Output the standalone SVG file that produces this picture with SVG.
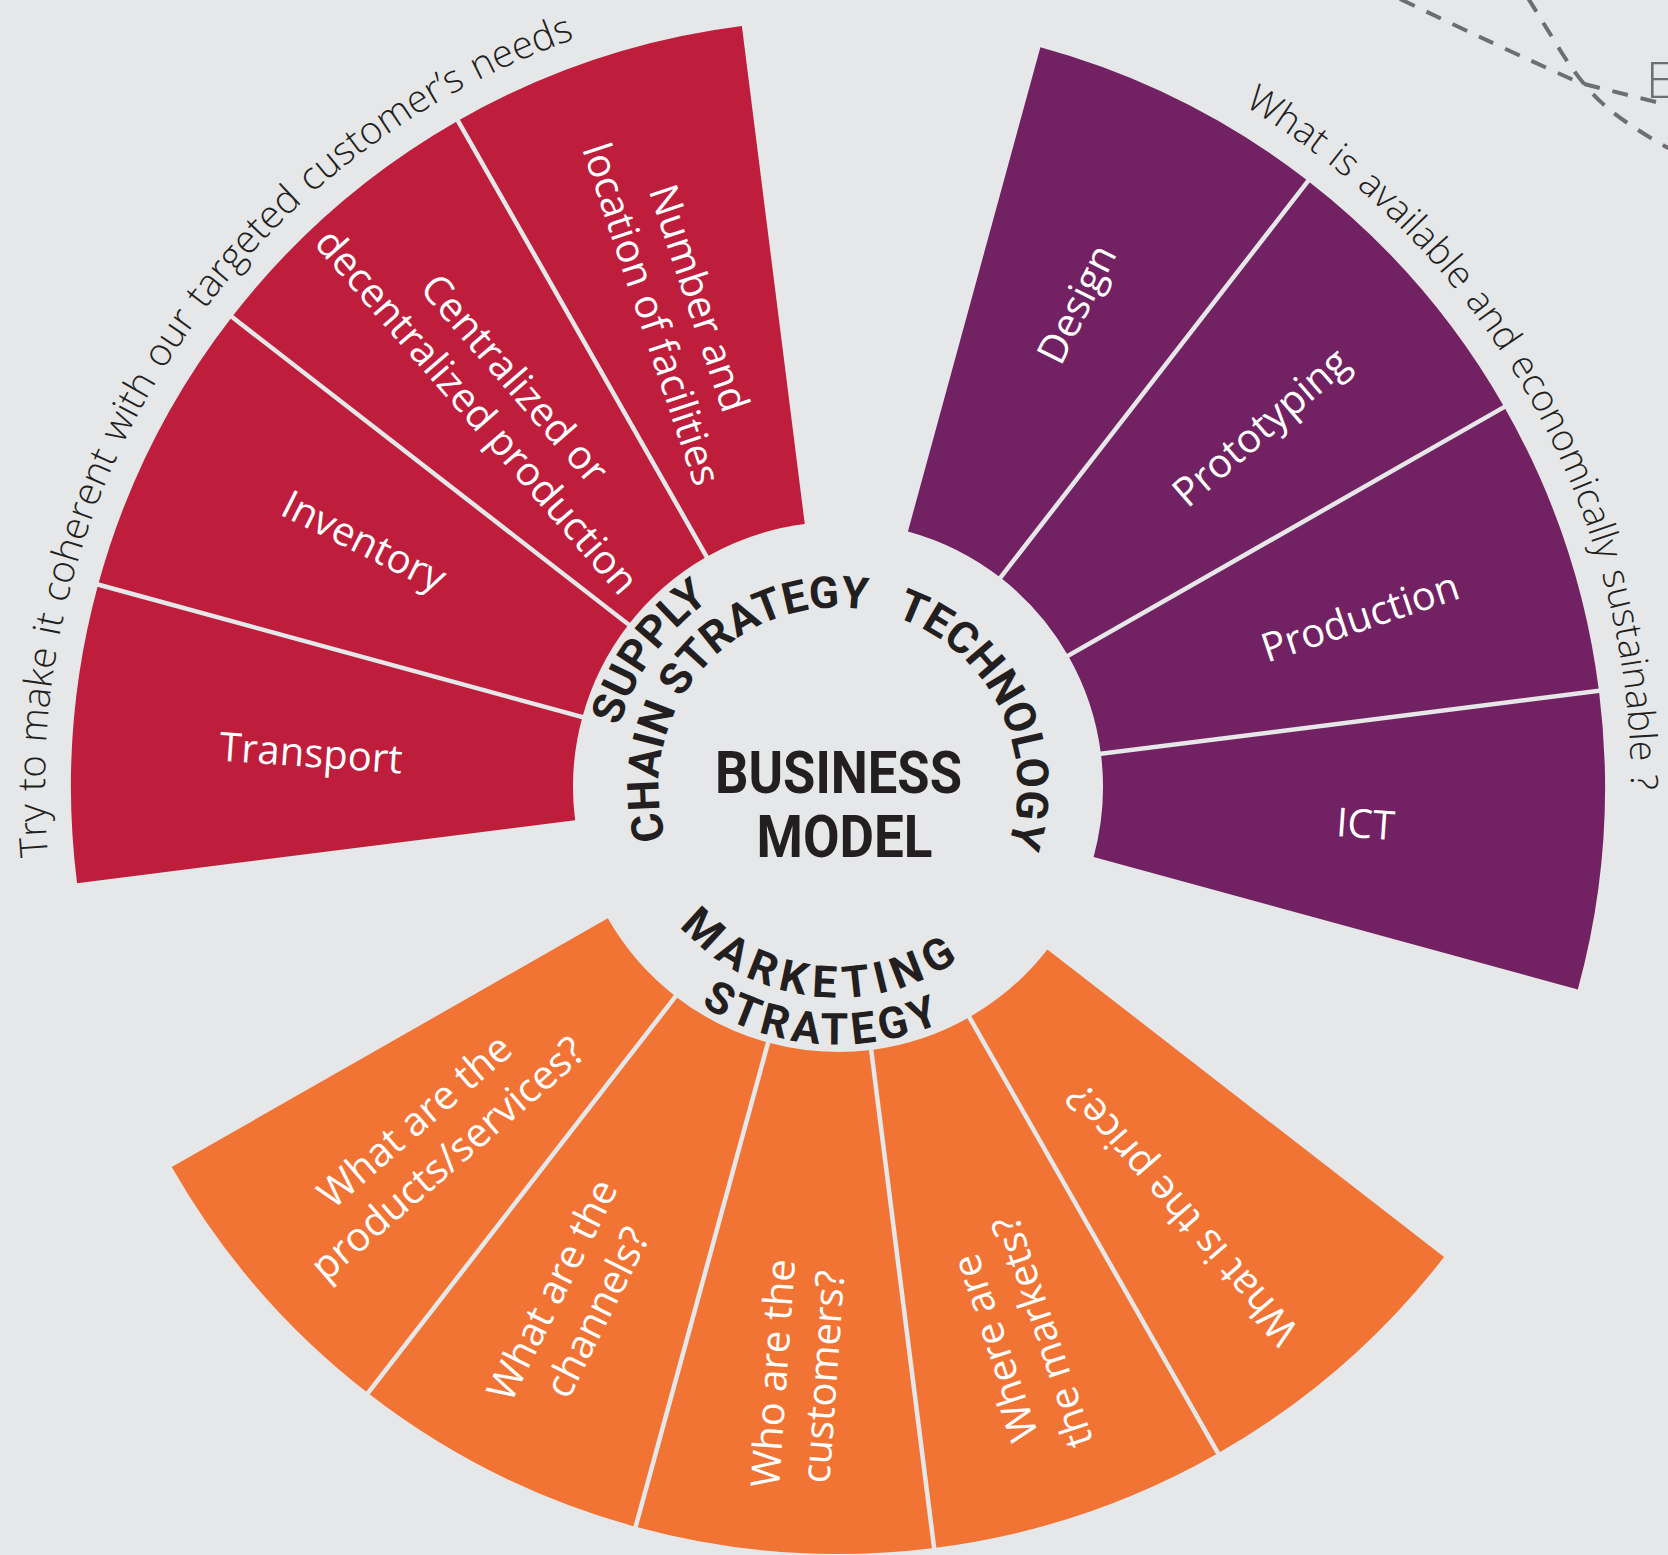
<svg xmlns="http://www.w3.org/2000/svg" width="1668" height="1555" viewBox="0 0 1668 1555">
<style>
.red{fill:#BE1E3C}
.pur{fill:#722262}
.org{fill:#F27435}
.div{stroke:#E6E7E8;stroke-width:4.5;stroke-linecap:square}
.lbl{font-family:"Open Sans","DejaVu Sans",sans-serif;font-size:40px;fill:#FFFFFF;text-anchor:middle}
.arc{font-family:"Open Sans","DejaVu Sans",sans-serif;font-weight:300;fill:#231F20}
.hub{font-family:Roboto,"Liberation Sans",sans-serif;font-weight:700;fill:#231F20}
.dash{fill:none;stroke:#6D6E71;stroke-width:4;stroke-dasharray:16 13}
</style>
<defs>
<path id="pTry" d="M132.69,1149.43 A793,793 0 0 1 876.74,-5.06"/>
<path id="pWhat" d="M844.92,-5.97 A793,793 0 0 1 1521.27,1189.48"/>
<path id="pSupply" d="M676.45,945.76 A226.5,226.5 0 0 1 935.51,582.56"/>
<path id="pChain" d="M708.23,911.01 A179.5,179.5 0 0 1 944.27,642.34"/>
<path id="pTech" d="M787.62,614.71 A179.5,179.5 0 0 1 944.27,931.66"/>
<path id="pMkt" d="M628.01,801.68 A210.5,210.5 0 0 0 1040.35,845.02"/>
<path id="pStr" d="M581.98,814.59 A257.5,257.5 0 0 0 1088.01,848.64"/>
</defs>
<rect width="1668" height="1555" fill="#E6E7E8"/>

<g id="decor">
<path class="dash" d="M1400,-1 Q1500,47 1580,83 Q1620,93 1660,103"/>
<path class="dash" d="M1528,-2 L1560,50 Q1585,90 1610,110 Q1635,130 1672,150"/>
<text x="1646" y="98" font-family="Open Sans, DejaVu Sans, sans-serif" font-weight="300" font-size="50" fill="#6D6E71">E</text>
</g>

<g id="seg-transport">
<path class="red" d="M77.05,883.13 A767,767 0 0 1 98.18,584.61 L582.39,717.07 A265,265 0 0 0 575.09,820.21 Z"/>
<text class="lbl" transform="translate(311,753) rotate(4.05)"><tspan x="0" y="14">Transport</tspan></text>
</g>
<g id="seg-inventory">
<path class="red" d="M98.18,584.61 A767,767 0 0 1 231.95,316.90 L628.61,624.58 A265,265 0 0 0 582.39,717.07 Z"/>
<text class="lbl" transform="translate(364,541) rotate(26.55)"><tspan x="0" y="14">Inventory</tspan></text>
</g>
<g id="seg-centralized">
<path class="red" d="M231.95,316.90 A767,767 0 0 1 457.98,120.76 L706.70,556.81 A265,265 0 0 0 628.61,624.58 Z"/>
<text class="lbl" transform="translate(496,395) rotate(49.05)"><tspan x="0" y="-11">Centralized or</tspan><tspan x="0" y="39">decentralized production</tspan></text>
</g>
<g id="seg-facilities">
<path class="red" d="M457.98,120.76 A767,767 0 0 1 741.87,26.05 L804.79,524.09 A265,265 0 0 0 706.70,556.81 Z"/>
<text class="lbl" transform="translate(675.5,306) rotate(71.55)"><tspan x="0" y="-11">Number and</tspan><tspan x="0" y="39">location of facilities</tspan></text>
</g>

<g id="seg-design">
<path class="pur" d="M1040.39,47.18 A767,767 0 0 1 1308.10,180.95 L1000.42,577.61 A265,265 0 0 0 907.93,531.39 Z"/>
<text class="lbl" transform="translate(1076.5,304) rotate(-63.45)"><tspan x="0" y="14">Design</tspan></text>
</g>
<g id="seg-prototyping">
<path class="pur" d="M1308.10,180.95 A767,767 0 0 1 1504.24,406.98 L1068.19,655.70 A265,265 0 0 0 1000.42,577.61 Z"/>
<text class="lbl" transform="translate(1260.7,427) rotate(-40.95)"><tspan x="0" y="14">Prototyping</tspan></text>
</g>
<g id="seg-production">
<path class="pur" d="M1504.24,406.98 A767,767 0 0 1 1598.95,690.87 L1100.91,753.79 A265,265 0 0 0 1068.19,655.70 Z"/>
<text class="lbl" transform="translate(1360,617) rotate(-18.45)"><tspan x="0" y="14">Production</tspan></text>
</g>
<g id="seg-ict">
<path class="pur" d="M1598.95,690.87 A767,767 0 0 1 1577.82,989.39 L1093.61,856.93 A265,265 0 0 0 1100.91,753.79 Z"/>
<text class="lbl" transform="translate(1365.5,824) rotate(4.05)"><tspan x="0" y="14">ICT</tspan></text>
</g>

<g id="seg-price">
<path class="org" d="M1444.05,1257.10 A767,767 0 0 1 1218.02,1453.24 L969.30,1017.19 A265,265 0 0 0 1047.39,949.42 Z"/>
<text class="lbl" transform="translate(1182,1215) rotate(-130.95)"><tspan x="0" y="14">What is the price?</tspan></text>
</g>
<g id="seg-markets">
<path class="org" d="M1218.02,1453.24 A767,767 0 0 1 934.13,1547.95 L871.21,1049.91 A265,265 0 0 0 969.30,1017.19 Z"/>
<text class="lbl" transform="translate(1018.5,1340) rotate(-108.45)"><tspan x="0" y="-11">Where are</tspan><tspan x="0" y="39">the markets?</tspan></text>
</g>
<g id="seg-customers">
<path class="org" d="M934.13,1547.95 A767,767 0 0 1 635.61,1526.82 L768.07,1042.61 A265,265 0 0 0 871.21,1049.91 Z"/>
<text class="lbl" transform="translate(798,1375) rotate(-85.95)"><tspan x="0" y="-11">Who are the</tspan><tspan x="0" y="39">customers?</tspan></text>
</g>
<g id="seg-channels">
<path class="org" d="M635.61,1526.82 A767,767 0 0 1 367.90,1393.05 L675.58,996.39 A265,265 0 0 0 768.07,1042.61 Z"/>
<text class="lbl" transform="translate(574.5,1301) rotate(-63.45)"><tspan x="0" y="-11">What are the</tspan><tspan x="0" y="39">channels?</tspan></text>
</g>
<g id="seg-products">
<path class="org" d="M367.90,1393.05 A767,767 0 0 1 171.76,1167.02 L607.81,918.30 A265,265 0 0 0 675.58,996.39 Z"/>
<text class="lbl" transform="translate(431,1139.5) rotate(-40.95)"><tspan x="0" y="-11">What are the</tspan><tspan x="0" y="39">products/services?</tspan></text>
</g>

<g id="dividers">
<line class="div" x1="582.39" y1="717.07" x2="98.18" y2="584.61"/>
<line class="div" x1="628.61" y1="624.58" x2="231.95" y2="316.90"/>
<line class="div" x1="706.70" y1="556.81" x2="457.98" y2="120.76"/>
<line class="div" x1="1000.42" y1="577.61" x2="1308.10" y2="180.95"/>
<line class="div" x1="1068.19" y1="655.70" x2="1504.24" y2="406.98"/>
<line class="div" x1="1100.91" y1="753.79" x2="1598.95" y2="690.87"/>
<line class="div" x1="969.30" y1="1017.19" x2="1218.02" y2="1453.24"/>
<line class="div" x1="871.21" y1="1049.91" x2="934.13" y2="1547.95"/>
<line class="div" x1="768.07" y1="1042.61" x2="635.61" y2="1526.82"/>
<line class="div" x1="675.58" y1="996.39" x2="367.90" y2="1393.05"/>
</g>

<g id="outer-notes">
<text class="arc" font-size="38.5" word-spacing="2.5"><textPath href="#pTry" startOffset="50%" text-anchor="middle">Try to make it coherent with our targeted customer’s needs</textPath></text>
<text class="arc" font-size="37.5" word-spacing="2.5"><textPath href="#pWhat" startOffset="50%" text-anchor="middle">What is available and economically sustainable ?</textPath></text>
</g>

<g id="hub">
<text class="hub" x="838.5" y="793" font-size="60" text-anchor="middle" textLength="247" lengthAdjust="spacingAndGlyphs">BUSINESS</text>
<text class="hub" x="844.5" y="857" font-size="60" text-anchor="middle" textLength="176" lengthAdjust="spacingAndGlyphs">MODEL</text>
<text class="hub" font-size="44"><textPath href="#pSupply" startOffset="50%" text-anchor="middle">SUPPLY</textPath></text>
<text class="hub" font-size="44"><textPath href="#pChain" startOffset="50%" text-anchor="middle">CHAIN STRATEGY</textPath></text>
<text class="hub" font-size="44"><textPath href="#pTech" startOffset="50%" text-anchor="middle">TECHNOLOGY</textPath></text>
<text class="hub" font-size="44" letter-spacing="7"><textPath href="#pMkt" startOffset="50%" text-anchor="middle">MARKETING</textPath></text>
<text class="hub" font-size="44" letter-spacing="4.5"><textPath href="#pStr" startOffset="50%" text-anchor="middle">STRATEGY</textPath></text>
</g>
</svg>
